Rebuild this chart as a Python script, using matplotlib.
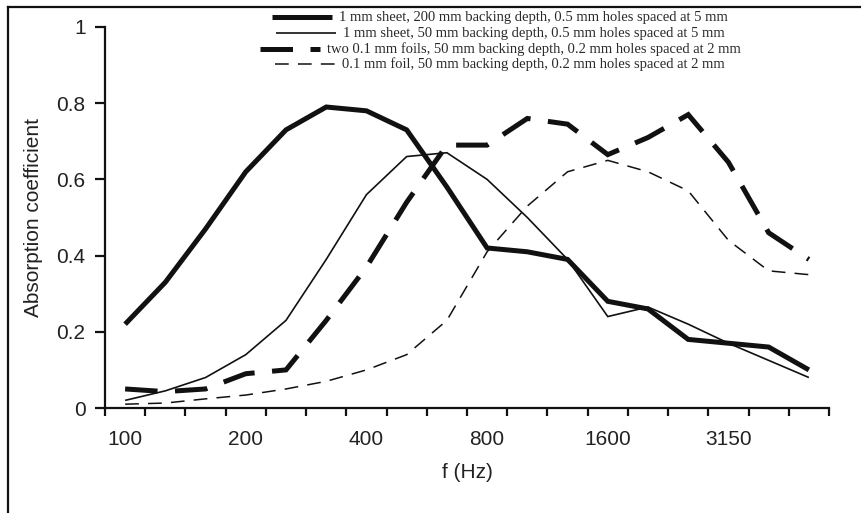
import matplotlib
matplotlib.use("Agg")
import matplotlib.pyplot as plt
from matplotlib.lines import Line2D

# One-third-octave band centre frequencies (Hz)
bands = [100, 125, 160, 200, 250, 315, 400, 500, 630, 800,
         1000, 1250, 1600, 2000, 2500, 3150, 4000, 5000]
tick_labels = ["100", "200", "400", "800", "1600", "3150"]

# Absorption coefficients per band
sheet_200mm = [0.22, 0.33, 0.47, 0.62, 0.73, 0.79, 0.78, 0.73, 0.58,
               0.42, 0.41, 0.39, 0.28, 0.26, 0.18, 0.17, 0.16, 0.10]
sheet_50mm = [0.02, 0.045, 0.08, 0.14, 0.23, 0.39, 0.56, 0.66, 0.67,
              0.60, 0.50, 0.39, 0.24, 0.265, 0.22, 0.17, 0.125, 0.08]
two_foils = [0.05, 0.043, 0.05, 0.09, 0.10, 0.23, 0.37, 0.54, 0.69,
             0.69, 0.76, 0.745, 0.665, 0.71, 0.77, 0.645, 0.46, 0.39]
one_foil = [0.01, 0.013, 0.024, 0.034, 0.05, 0.07, 0.10, 0.14, 0.23,
            0.41, 0.53, 0.62, 0.65, 0.62, 0.57, 0.44, 0.36, 0.35]

series_labels = [
    "1 mm sheet, 200 mm backing depth, 0.5 mm holes spaced at 5 mm",
    "1 mm sheet, 50 mm backing depth, 0.5 mm holes spaced at 5 mm",
    "two 0.1 mm foils, 50 mm backing depth, 0.2 mm holes spaced at 2 mm",
    "0.1 mm foil, 50 mm backing depth, 0.2 mm holes spaced at 2 mm",
]

W, H = 861, 513
INK = "#111111"
fig = plt.figure(figsize=(W / 100, H / 100), dpi=100)
sans = ["Liberation Sans", "DejaVu Sans"]
serif = ["Liberation Serif", "DejaVu Serif"]

# axes box in pixel coordinates
left, right, bottom, top = 105, 829, 408, 27
ax = fig.add_axes([left / W, 1 - bottom / H, (right - left) / W, (bottom - top) / H])

x = list(range(len(bands)))
styles = [
    dict(lw=3.6, ls="-"),
    dict(lw=1.2, ls="-"),
    dict(lw=3.6, ls=(0, (6.5, 3.5))),
    dict(lw=1.1, ls=(0, (9, 6))),
]
data = [sheet_200mm, sheet_50mm, two_foils, one_foil]
for vals, st in zip(data, styles):
    ax.plot(x, vals, color=INK, solid_joinstyle="miter", dash_joinstyle="miter",
            dash_capstyle="butt", solid_capstyle="butt", **st)

ax.set_xlim(-0.5, len(bands) - 0.5)
ax.set_ylim(0, 1)

for s in ("top", "right"):
    ax.spines[s].set_visible(False)
for s in ("left", "bottom"):
    ax.spines[s].set_linewidth(1.6)
    ax.spines[s].set_color(INK)

# band edges as ticks, band centres carry labels
ax.set_xticks([i - 0.5 for i in range(len(bands) + 1)])
ax.set_xticklabels([])
ax.tick_params(axis="x", which="major", direction="out", length=6, width=1.6, color=INK)
label_pos = [bands.index(int(t)) for t in tick_labels]
ax.set_xticks(label_pos, minor=True)
ax.set_xticklabels(tick_labels, minor=True, fontfamily=sans, fontsize=15, color="#222222")
ax.tick_params(axis="x", which="minor", length=0, pad=16)

yt = [0, 0.2, 0.4, 0.6, 0.8, 1]
ax.set_yticks(yt)
ax.set_yticklabels(["0", "0.2", "0.4", "0.6", "0.8", "1"], fontfamily=sans,
                   fontsize=15, color="#222222")
ax.tick_params(axis="y", direction="out", length=7, width=1.6, color=INK, pad=7)

ax.set_xlabel("f (Hz)", fontfamily=sans, fontsize=15, color="#222222", labelpad=10)
ax.set_ylabel("Absorption coefficient", fontfamily=sans, fontsize=15,
              color="#222222", labelpad=10)

# legend block: each row (sample line + text) centred on one x position
row_y = [17, 33, 49, 64]
row_centre = 500
sample_len, gap = 60, 7
renderer = fig.canvas.get_renderer()
for yy, st, lab in zip(row_y, styles, series_labels):
    fy = 1 - yy / H
    t = fig.text(0, fy, lab, fontfamily=serif, fontsize=10.5,
                 color="#2a2a2a", va="center", ha="left")
    tw = t.get_window_extent(renderer).width
    x0 = row_centre - (sample_len + gap + tw) / 2
    t.set_x((x0 + sample_len + gap) / W)
    fig.add_artist(Line2D([x0 / W, (x0 + sample_len) / W], [fy, fy], color=INK,
                          solid_capstyle="butt", dash_capstyle="butt", **st))

# frame along the top and left edges
fig.add_artist(Line2D([8 / W, 1], [1 - 7 / H, 1 - 7 / H], color=INK, lw=1.6))
fig.add_artist(Line2D([8 / W, 8 / W], [0, 1 - 7 / H], color=INK, lw=1.6))

fig.savefig("out.png", dpi=100)
